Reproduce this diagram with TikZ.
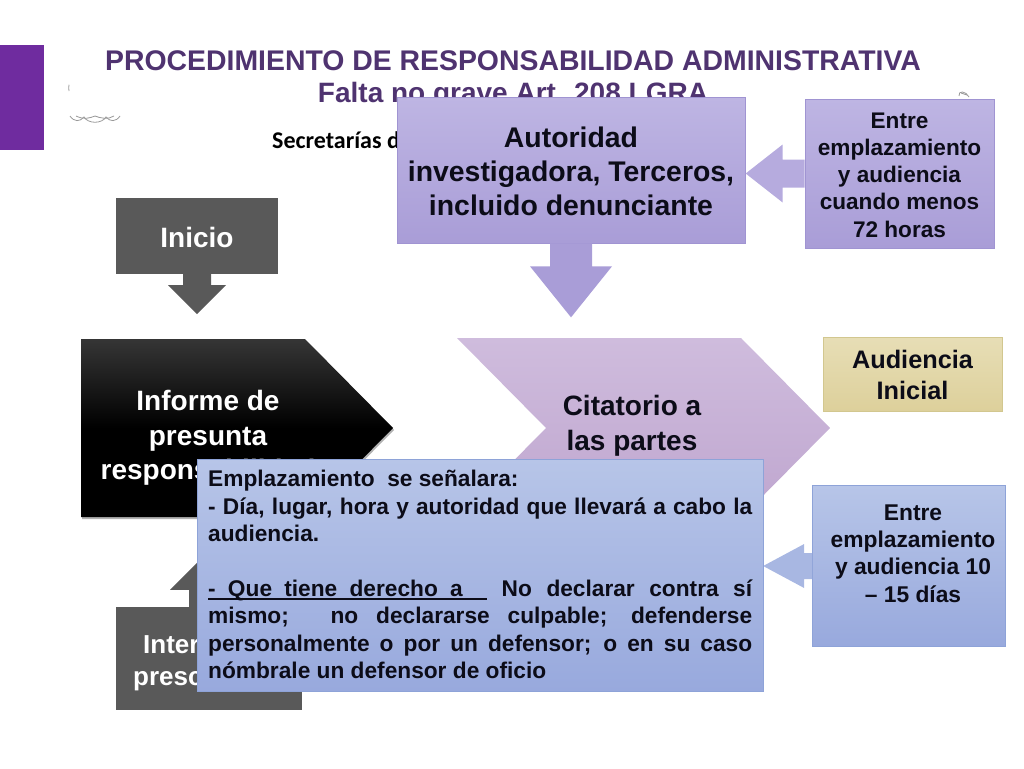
\documentclass[tikz,border=0pt]{standalone}
\usepackage{fontspec}
\setmainfont{Liberation Sans}
\newfontfamily\carlitofont{Carlito}

\definecolor{barra}{HTML}{6F2C9F}
\definecolor{titulo}{HTML}{4F3370}
\definecolor{gris}{HTML}{595959}
\definecolor{tinta}{HTML}{0C0C18}
\definecolor{lilaA}{HTML}{BEB5E3}
\definecolor{lilaB}{HTML}{A99DD7}
\definecolor{lilaC}{HTML}{A094D2}
\definecolor{azulA}{HTML}{B7C5E8}
\definecolor{azulB}{HTML}{98A9DD}
\definecolor{azulC}{HTML}{8EA3D8}
\definecolor{audA}{HTML}{E7DEB6}
\definecolor{audB}{HTML}{DDD09B}
\definecolor{audC}{HTML}{D2C78F}
\definecolor{citA}{HTML}{CFBCDD}
\definecolor{citB}{HTML}{BFA6CF}

\tikzset{
  caja/.style={rectangle, inner sep=0pt, align=center, text=tinta, font=\bfseries},
  lila/.style={top color=lilaA, bottom color=lilaB, draw=lilaC, line width=0.7pt},
  azul/.style={top color=azulA, bottom color=azulB, draw=azulC, line width=0.7pt},
  logo/.style={draw=gray!80, line width=0.8pt}
}

\begin{document}
\begin{tikzpicture}[x=1pt, y=-1pt]
  \useasboundingbox (0,0) rectangle (1024,768);

  \fill [barra] (0,45) rectangle (44,150);

  % restos de los logos
  \draw [logo] (69,91) arc (170:190:18);
  \draw [logo] (70,116) .. controls (74,122) and (80,122) .. (84,117) .. controls (88,124) and (102,124) .. (106,117) .. controls (110,122) and (116,122) .. (120,116);
  \draw [logo] (76,116) .. controls (84,120) and (90,118) .. (95,116) .. controls (100,118) and (108,120) .. (114,116);
  \draw [logo] (959,96) .. controls (958,90) and (966,91) .. (969,97);
  \draw [logo] (961,93) -- (967,95);

  \node (titulo) [font=\bfseries\fontsize{28.4}{32}\selectfont, text=titulo, inner sep=0pt] at (513,61) {PROCEDIMIENTO DE RESPONSABILIDAD ADMINISTRATIVA};
  \node (falta) [font=\bfseries\fontsize{28}{32}\selectfont, text=titulo, inner sep=0pt] at (513,95.5) {Falta no grave Art. 208 LGRA};
  \node (secretarias) [font=\carlitofont\bfseries\fontsize{24}{28}\selectfont, text=black, anchor=west, inner sep=0pt] at (272,140) {Secretarías de};

  % columna superior
  \node (inicio) [caja, fill=gris, text=white, minimum width=162pt, minimum height=76pt] at (197,236) {};
  \node (iniciotxt) [caja, text=white, font=\bfseries\fontsize{28}{33}\selectfont] at (197,237) {Inicio};
  \draw [draw=none, fill=gris] (inicio.south) +(-14,0) -- +(-14,11) -- +(-29,11) -- +(0,40) -- +(29,11) -- +(14,11) -- +(14,0) -- cycle;

  \node (autoridad) [caja, lila, minimum width=348pt, minimum height=146pt] at (571,170) {};
  \node (autoridadtxt) [caja, font=\bfseries\fontsize{28.4}{34}\selectfont] at (571,171) {Autoridad\\investigadora, Terceros,\\incluido denunciante};
  \draw [draw=none, fill=lilaB] (autoridad.south) +(-21,0) -- +(-21,23) -- +(-41,23) -- +(0,74) -- +(41,23) -- +(21,23) -- +(21,0) -- cycle;

  \node (entre72) [caja, lila, minimum width=189pt, minimum height=149pt] at (899.5,173.5) {};
  \node (entre72txt) [caja, font=\bfseries\fontsize{22.6}{27.3}\selectfont] at (899.5,175) {Entre\\emplazamiento\\y audiencia\\cuando menos\\72 horas};
  \draw [draw=none, fill=lilaA!60!lilaB] (entre72.west) +(0,-14) -- +(-22,-14) -- +(-22,-29) -- +(-59,0) -- +(-22,29) -- +(-22,14) -- +(0,14) -- cycle;

  \node (audiencia) [caja, top color=audA, bottom color=audB, draw=audC, line width=0.7pt, minimum width=179pt, minimum height=74pt] at (912.5,374) {};
  \node (audienciatxt) [caja, font=\bfseries\fontsize{25.3}{31}\selectfont] at (912.5,375) {Audiencia\\Inicial};

  % flechas grandes
  \draw [draw=none, fill=black, opacity=0.3] (82,341) -- (306,341) -- (394,430) -- (306,519) -- (82,519) -- cycle;
  \draw [draw=none, top color=gris!60!black, bottom color=black, middle color=black] (81,339) -- (305,339) -- (393,428) -- (305,517) -- (81,517) -- cycle;
  \node (informe) [caja, text=white, font=\bfseries\fontsize{28}{34.4}\selectfont] at (208,438) {Informe de\\presunta\\responsabilidad};

  \draw [draw=none, top color=citA, bottom color=citB] (457,338) -- (741,338) -- (830,428) -- (741,518) -- (457,518) -- (546,428) -- cycle;
  \node (citatorio) [caja, font=\bfseries\fontsize{28}{35}\selectfont] at (632,426) {Citatorio a\\las partes};

  % columna inferior
  \node (interrupcion) [caja, fill=gris, minimum width=186pt, minimum height=103pt] at (209,658.5) {};
  \node (interrupciontxt) [caja, text=white, anchor=west, align=left, font=\bfseries\fontsize{26}{32}\selectfont] at (133,663) {\hspace*{10pt}Interrupción\\prescripción};
  \draw [draw=none, fill=gris] (interrupcion.north) +(-20,0) -- +(-20,-17) -- +(-39,-17) -- +(0,-56) -- +(39,-17) -- +(20,-17) -- +(20,0) -- cycle;

  \node (entre10) [caja, azul, minimum width=193pt, minimum height=161pt] at (909,566) {};
  \node (entre10txt) [caja, font=\bfseries\fontsize{22.8}{27.4}\selectfont] at (913,553.5) {Entre\\emplazamiento\\y audiencia 10\\– 15 días};
  \draw [draw=none, fill=azulA!50!azulB] (entre10.west) +(0,-13) -- +(-8,-13) -- +(-8,-22) -- +(-49,0) -- +(-8,22) -- +(-8,13) -- +(0,13) -- cycle;

  \node (emplazamiento) [caja, azul, minimum width=566pt, minimum height=232pt] at (480,575) {};
  \node (emplazamientotxt) [caja, anchor=north west, align=justify, text width=544pt, font=\bfseries\fontsize{22.7}{27.4}\selectfont] at (208,470) {%
    Emplazamiento~ se señalara:\\
    - Día, lugar, hora y autoridad que llevará a cabo la\linebreak
    audiencia.\\
    \mbox{}\\
    \rlap{\raisebox{-3.5pt}{\rule{279pt}{1.6pt}}}\hbox to 279pt{-\hfil Que\hfil tiene\hfil derecho\hfil a\hfil\hfil} No declarar contra sí\linebreak
    mismo;~ no declararse culpable; defenderse\linebreak
    personalmente o por un defensor; o en su caso\linebreak
    nómbrale un defensor de oficio};
\end{tikzpicture}
\end{document}
